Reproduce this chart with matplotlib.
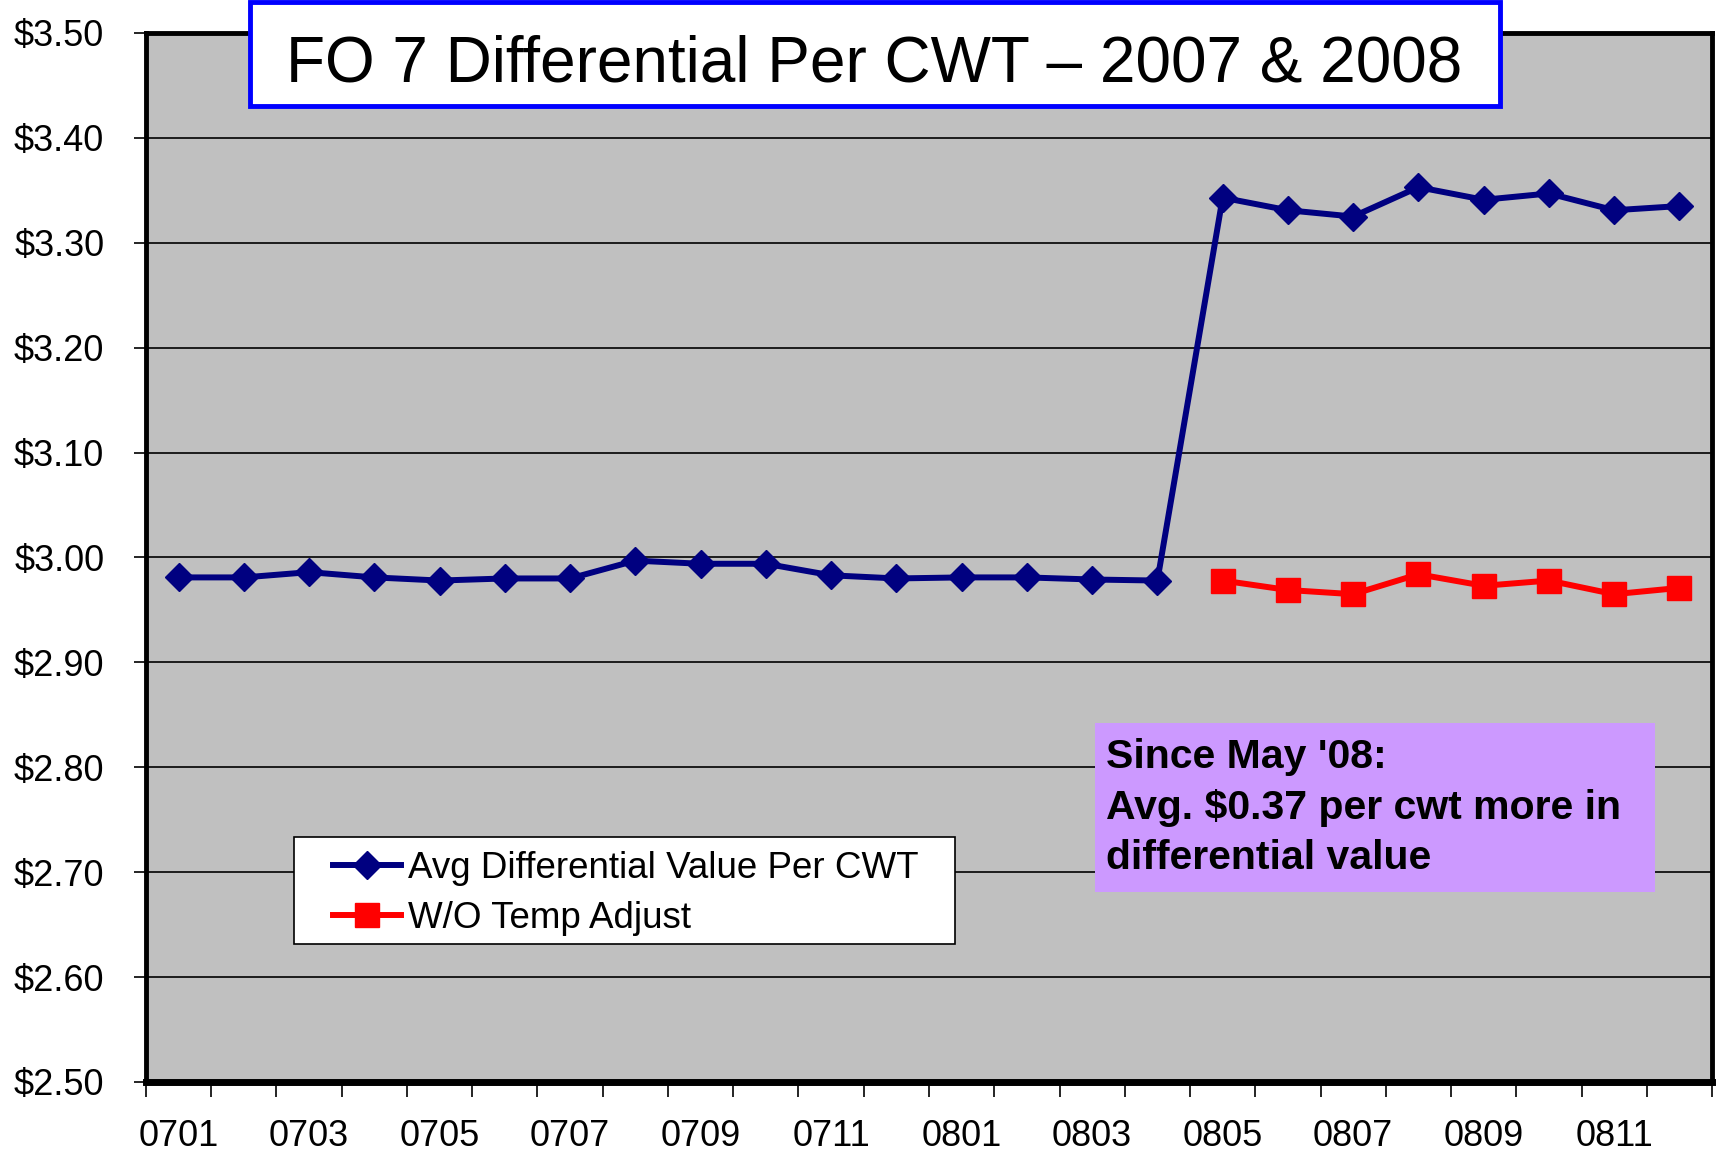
import numpy as np
import matplotlib.pyplot as plt
from matplotlib.patches import Rectangle
from matplotlib.ticker import FixedLocator, FuncFormatter

plt.rcParams['font.family'] = ['Liberation Sans', 'DejaVu Sans']

# months 0701 .. 0812
months = ['0701', '0702', '0703', '0704', '0705', '0706', '0707', '0708',
          '0709', '0710', '0711', '0712', '0801', '0802', '0803', '0804',
          '0805', '0806', '0807', '0808', '0809', '0810', '0811', '0812']

avg_diff = [2.981, 2.981, 2.986, 2.981, 2.978, 2.980, 2.980, 2.997,
            2.994, 2.994, 2.983, 2.980, 2.981, 2.981, 2.979, 2.978,
            3.343, 3.331, 3.325, 3.353, 3.341, 3.347, 3.331, 3.335]

# W/O temp adjust only from 0805
wo_temp_months = months[16:]
wo_temp = [2.978, 2.969, 2.965, 2.984, 2.973, 2.978, 2.965, 2.971]

title = 'FO 7 Differential Per CWT \u2013 2007 & 2008'
note = "Since May '08:\nAvg. $0.37 per cwt more in\ndifferential value"

fig = plt.figure(figsize=(17.21, 11.53), dpi=100)
fig.patch.set_facecolor('white')
ax = fig.add_axes([0.0848, 0.0616, 0.9100, 0.9098])
ax.set_facecolor('#C0C0C0')

x = np.arange(len(months))
x_wo = np.array([months.index(m) for m in wo_temp_months])

ax.plot(x, avg_diff, color='#000080', lw=4.3, marker='D', ms=14,
        label='Avg Differential Value Per CWT', zorder=4)
ax.plot(x_wo, wo_temp, color='#FF0000', lw=4.3, marker='s', ms=17,
        label='W/O Temp Adjust', zorder=4)

ax.set_xlim(-0.5, len(months) - 0.5)
ax.set_ylim(2.5, 3.5)

ax.set_yticks(np.arange(2.5, 3.51, 0.1))
ax.yaxis.set_major_formatter(FuncFormatter(lambda v, p: '${:.2f}'.format(v)))
ax.grid(axis='y', color='black', lw=1.2, zorder=1)
ax.set_axisbelow(True)

ax.xaxis.set_major_locator(FixedLocator(x))
ax.set_xticklabels([m if i % 2 == 0 else '' for i, m in enumerate(months)])
ax.xaxis.set_minor_locator(FixedLocator(np.arange(-0.5, len(months), 1.0)))
ax.tick_params(axis='x', which='major', length=0, pad=26.5, labelsize=26)
ax.tick_params(axis='x', which='minor', length=11, width=1.2, direction='out')
ax.tick_params(axis='y', length=9, width=1.2, pad=21, labelsize=26)

for s in ax.spines.values():
    s.set_linewidth(3.5)
    s.set_color('black')
ax.spines['bottom'].set_linewidth(5)

# legend: frame drawn separately so the inner margins match
fig.patches.append(Rectangle((0.1708, 0.1813), 0.3841, 0.0928,
                             transform=fig.transFigure, facecolor='white',
                             edgecolor='black', lw=1.2, zorder=5))
handles, labels = ax.get_legend_handles_labels()
leg = fig.legend(handles, labels, loc='upper left',
                 bbox_to_anchor=(0.1935, 0.2623), fontsize=26.5,
                 frameon=False, borderaxespad=0, borderpad=0,
                 handlelength=1.85, handletextpad=0.2, labelspacing=0.41)
leg.set_zorder(6)

# title box
fig.patches.append(Rectangle((0.1453, 0.9081), 0.7263, 0.0902,
                             transform=fig.transFigure, facecolor='white',
                             edgecolor='#0000FF', lw=3.5, zorder=5))
fig.text(0.508, 0.9289, title, ha='center', va='baseline', fontsize=46,
         zorder=6)

# note box
fig.patches.append(Rectangle((0.6363, 0.2264), 0.3254, 0.1466,
                             transform=fig.transFigure, facecolor='#CC99FF',
                             edgecolor='none', zorder=5))
fig.text(0.6426, 0.3600, note, ha='left', va='top', fontsize=29.5,
         fontweight='bold', linespacing=1.42, zorder=6)

fig.savefig('out.png', dpi=100)
